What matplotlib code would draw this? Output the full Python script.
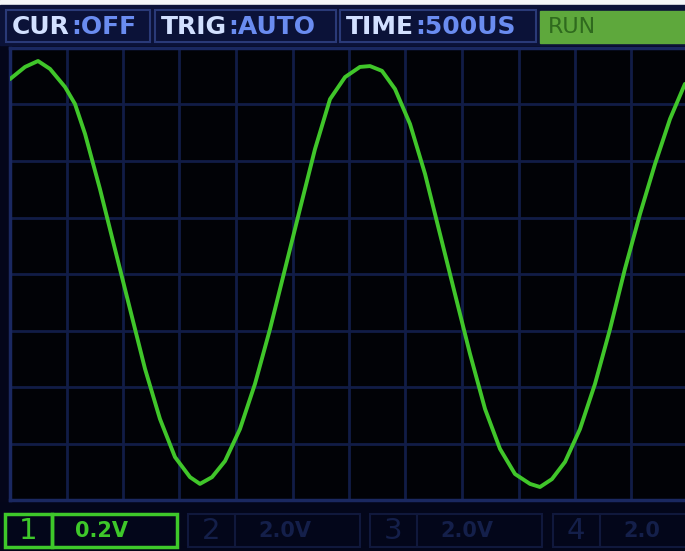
import matplotlib.pyplot as plt
from matplotlib.patches import Rectangle

# waveform: time (us) and voltage (V)
time_us = [0, 133, 248, 354, 487, 575, 664, 796, 929, 1062, 1195, 1327, 1460,
           1593, 1681, 1788, 1903, 2035, 2168, 2301, 2434, 2566, 2699, 2832,
           2965, 3097, 3186, 3292, 3407, 3540, 3673, 3805, 3938, 4071, 4204,
           4336, 4469, 4602, 4690, 4796, 4912, 5044, 5177, 5310, 5442, 5575,
           5708, 5841, 5973]
volts = [0.690, 0.733, 0.754, 0.726, 0.662, 0.602, 0.496, 0.301, 0.088,
         -0.124, -0.336, -0.513, -0.648, -0.719, -0.743, -0.719, -0.662,
         -0.549, -0.389, -0.195, 0.018, 0.230, 0.442, 0.619, 0.697, 0.733,
         0.736, 0.719, 0.655, 0.531, 0.354, 0.142, -0.071, -0.283, -0.478,
         -0.619, -0.708, -0.743, -0.754, -0.726, -0.665, -0.549, -0.389,
         -0.195, 0.018, 0.212, 0.389, 0.549, 0.673]

time_per_div = 500
volt_per_div = 0.2
n_xdiv = 12
n_ydiv = 8

header_labels = [('CUR', ':OFF'), ('TRIG', ':AUTO'), ('TIME', ':500US')]
channel_labels = [('1', '0.2V'), ('2', '2.0V'), ('3', '2.0V'), ('4', '2.0')]

W, H = 685, 551
fig = plt.figure(figsize=(W / 100, H / 100), dpi=100)
fig.patch.set_facecolor('#020308')

# chrome in pixel coordinates
ui = fig.add_axes([0, 0, 1, 1])
ui.set_xlim(0, W)
ui.set_ylim(H, 0)
ui.axis('off')

ui.add_patch(Rectangle((0, 0), W, H, color='#04061a', zorder=0))
ui.add_patch(Rectangle((0, 0), W, 5, color='#f4f6f8', zorder=1))
ui.add_patch(Rectangle((0, 5), W, 40, color='#0b1238', zorder=1))

# header boxes
box_x = [(6, 150), (155, 336), (340, 536)]
for (x0, x1), (lab, val) in zip(box_x, header_labels):
    ui.add_patch(Rectangle((x0, 10), x1 - x0, 32, fill=False,
                           ec='#2a3a78', lw=1.5, zorder=2))
    t = ui.text(x0 + 6, 27, lab, color='#d2e0ff', fontsize=18,
                fontweight='bold', va='center', ha='left', zorder=3)
    fig.canvas.draw()
    bb = t.get_window_extent()
    ui.text(x0 + 6 + bb.width + 1, 27, val, color='#6a8cf0', fontsize=18,
            fontweight='bold', va='center', ha='left', zorder=3)

ui.add_patch(Rectangle((540, 11), W - 540, 32, color='#5ea83c', zorder=2))
ui.text(548, 27, 'RUN', color='#2f6a1e', fontsize=16, va='center',
        ha='left', zorder=3)

# bottom channel bar
ui.add_patch(Rectangle((0, 503), W, H - 503, color='#03061a', zorder=1))
ch_x = [5, 188, 370, 553]
for i, (x0, (num, scale)) in enumerate(zip(ch_x, channel_labels)):
    col = '#3ec82a' if i == 0 else '#10183c'
    tcol = '#3ec82a' if i == 0 else '#141f4a'
    lw = 2.5 if i == 0 else 1.5
    ui.add_patch(Rectangle((x0, 514), 47, 33, fill=False, ec=col, lw=lw,
                           zorder=2))
    ui.add_patch(Rectangle((x0 + 47, 514), 125, 33, fill=False, ec=col,
                           lw=lw, zorder=2))
    ui.text(x0 + 23, 531, num, color=tcol, fontsize=21, ha='center',
            va='center', zorder=3)
    ui.text(x0 + 70, 531, scale, color=tcol, fontsize=15, fontweight='bold',
            ha='left', va='center', zorder=3)

# scope screen
ax = fig.add_axes([10 / W, (H - 500) / H, 678 / W, 452 / H])
ax.set_facecolor('#010206')
ax.set_xlim(0, n_xdiv * time_per_div)
ax.set_ylim(-n_ydiv / 2 * volt_per_div, n_ydiv / 2 * volt_per_div)
ax.set_xticks([i * time_per_div for i in range(n_xdiv + 1)])
ax.set_yticks([(i - n_ydiv / 2) * volt_per_div for i in range(n_ydiv + 1)])
ax.tick_params(length=0, labelbottom=False, labelleft=False)
ax.grid(True, color='#111c46', lw=2.0)
for s in ax.spines.values():
    s.set_color('#1a2860')
    s.set_linewidth(2.5)
ax.spines['right'].set_visible(False)

ax.plot(time_us, volts, color='#40c62a', lw=2.8, solid_capstyle='round',
        zorder=3)

fig.savefig('out.png', dpi=100, facecolor=fig.get_facecolor())
